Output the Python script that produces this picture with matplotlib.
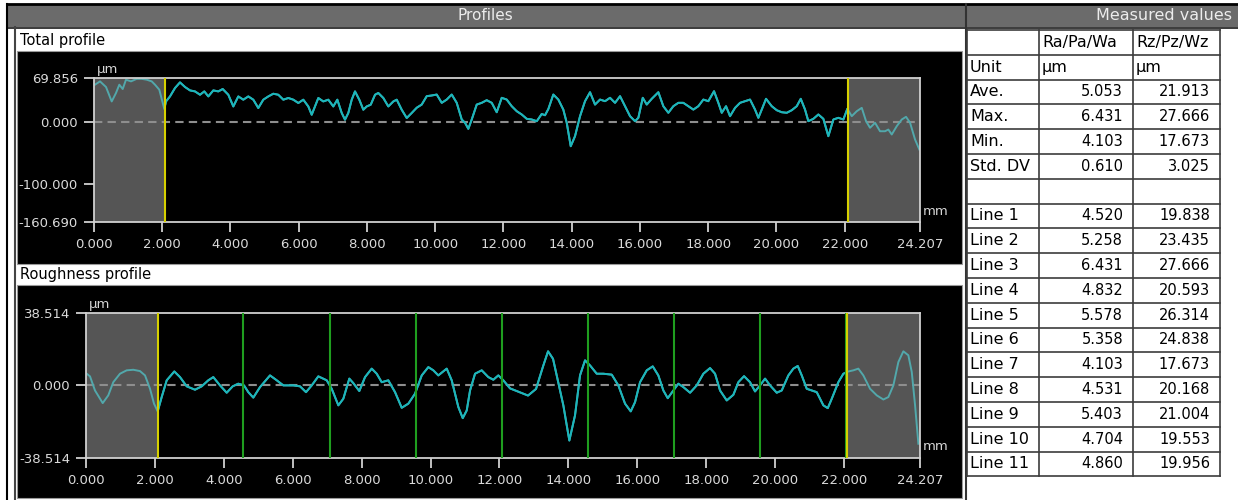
import matplotlib.pyplot as plt
from matplotlib.patches import Rectangle

# Total profile (P), position in mm and height in µm
total_x = [0.029, 0.176, 0.352, 0.519, 0.645, 0.742, 0.841, 0.938, 1.084, 1.251,
           1.398, 1.545, 1.691, 1.788, 1.914, 2.060, 2.110, 2.227, 2.374, 2.520,
           2.667, 2.814, 2.960, 3.107, 3.233, 3.350, 3.497, 3.643, 3.772, 3.936,
           4.083, 4.229, 4.376, 4.522, 4.669, 4.815, 4.962, 5.108, 5.255, 5.401,
           5.548, 5.695, 5.841, 5.988, 6.134, 6.281, 6.380, 6.477, 6.574, 6.720,
           6.867, 7.013, 7.131, 7.260, 7.356, 7.453, 7.553, 7.649, 7.775, 7.893,
           7.992, 8.110, 8.236, 8.332, 8.479, 8.625, 8.772, 8.872, 9.018, 9.165,
           9.311, 9.458, 9.604, 9.751, 9.897, 10.044, 10.191, 10.337, 10.484, 10.630,
           10.777, 10.873, 10.970, 11.070, 11.216, 11.363, 11.509, 11.656, 11.802, 11.949,
           12.095, 12.242, 12.389, 12.535, 12.682, 12.828, 12.975, 13.121, 13.218, 13.316,
           13.461, 13.608, 13.754, 13.854, 13.971, 14.097, 14.244, 14.390, 14.537, 14.683,
           14.830, 14.977, 15.123, 15.270, 15.416, 15.563, 15.709, 15.856, 15.953, 16.082,
           16.199, 16.345, 16.539, 16.685, 16.832, 16.978, 17.125, 17.271, 17.418, 17.565,
           17.711, 17.858, 18.004, 18.171, 18.297, 18.397, 18.523, 18.640, 18.787, 18.933,
           19.080, 19.226, 19.373, 19.470, 19.569, 19.695, 19.862, 20.009, 20.155, 20.302,
           20.448, 20.595, 20.712, 20.838, 20.935, 21.082, 21.228, 21.375, 21.521, 21.668,
           21.814, 21.961, 22.078, 22.207, 22.353, 22.500, 22.626, 22.743, 22.890, 23.036,
           23.183, 23.279, 23.379, 23.525, 23.672, 23.798, 23.916, 24.062, 24.189]
total_z = [58.7, 64.0, 55.0, 32.0, 45.5, 58.7, 51.8, 66.7, 64.0, 68.0,
           68.0, 66.7, 64.0, 58.7, 50.7, 20.0, 32.0, 40.0, 53.4, 62.4,
           55.0, 49.6, 48.0, 42.7, 48.0, 40.0, 49.6, 48.0, 51.8, 42.7,
           24.0, 40.0, 34.8, 40.0, 34.8, 21.5, 34.8, 40.0, 44.3, 42.7,
           34.8, 37.5, 34.8, 29.5, 34.8, 24.0, 10.8, 24.0, 37.5, 32.0,
           34.8, 24.0, 34.8, 13.6, 2.9, 13.6, 34.8, 48.0, 34.8, 18.8,
           24.0, 26.8, 42.7, 45.5, 37.5, 24.0, 32.0, 34.8, 18.8, 5.6,
           13.6, 22.0, 27.0, 40.4, 41.5, 43.0, 29.8, 35.0, 43.0, 29.8,
           3.2, -2.0, -11.7, 3.2, 27.0, 29.8, 34.0, 29.8, 14.8, 37.8,
           35.0, 24.4, 16.4, 11.2, 4.3, 3.2, 0.5, 12.0, 10.0, 20.0,
           43.0, 35.0, 19.0, -2.0, -39.4, -23.4, 8.5, 32.4, 46.7, 27.0,
           35.0, 32.4, 37.8, 29.8, 40.4, 24.4, 8.5, 0.5, 5.9, 37.8,
           27.0, 36.2, 46.7, 24.4, 13.9, 24.4, 29.8, 29.8, 24.4, 19.0,
           24.4, 35.0, 32.4, 48.3, 29.8, 13.9, 24.4, 8.5, 21.8, 29.8,
           32.4, 35.0, 19.0, 5.9, 19.0, 36.2, 24.4, 18.0, 14.8, 13.9,
           18.0, 24.4, 36.2, 19.0, 0.5, 4.3, 11.2, 4.3, -23.4, 3.2,
           5.9, 3.2, 20.3, 8.5, 16.4, 21.8, 0.5, -10.0, -2.0, -15.5,
           -15.5, -12.8, -20.7, -7.5, 3.2, 7.5, -2.0, -28.7, -44.7]

# Roughness profile (R)
rough_x = [0.000, 0.116, 0.261, 0.485, 0.647, 0.792, 0.987, 1.181, 1.373, 1.567,
           1.713, 1.858, 1.974, 2.081, 2.197, 2.343, 2.563, 2.729, 2.923, 3.164,
           3.358, 3.550, 3.695, 3.890, 4.084, 4.258, 4.421, 4.586, 4.711, 4.856,
           5.051, 5.341, 5.536, 5.727, 6.017, 6.212, 6.386, 6.552, 6.743, 6.987,
           7.132, 7.324, 7.469, 7.643, 7.759, 7.933, 8.099, 8.293, 8.438, 8.583,
           8.775, 8.970, 9.164, 9.356, 9.550, 9.745, 9.936, 10.081, 10.226, 10.470,
           10.615, 10.807, 10.935, 11.051, 11.147, 11.292, 11.486, 11.678, 11.823, 11.968,
           12.113, 12.308, 12.502, 12.830, 13.062, 13.266, 13.411, 13.556, 13.701, 13.855,
           14.029, 14.194, 14.339, 14.484, 14.630, 14.824, 15.016, 15.260, 15.451, 15.646,
           15.811, 15.936, 16.081, 16.276, 16.450, 16.612, 16.758, 16.885, 17.048, 17.193,
           17.338, 17.533, 17.727, 17.919, 18.113, 18.258, 18.403, 18.598, 18.790, 18.935,
           19.100, 19.274, 19.419, 19.564, 19.710, 19.855, 20.049, 20.194, 20.386, 20.531,
           20.659, 20.775, 20.920, 21.065, 21.210, 21.402, 21.530, 21.646, 21.837, 21.983,
           22.128, 22.273, 22.418, 22.563, 22.758, 22.952, 23.144, 23.289, 23.434, 23.579,
           23.724, 23.869, 23.968, 24.064, 24.160]
rough_z = [6.4, 4.7, -2.8, -9.5, -5.4, 1.6, 6.1, 7.9, 8.2, 7.5,
           5.2, -1.9, -9.8, -13.9, -6.3, 2.6, 7.3, 4.3, -0.6, -2.4,
           -0.6, 2.6, 4.3, -0.1, -4.0, -0.6, 0.8, -0.1, -3.7, -6.6,
           -1.0, 5.2, 2.6, -0.1, -0.1, -0.6, -3.7, -0.1, 4.7, 2.6,
           -1.9, -10.7, -7.2, 3.5, 1.1, -3.1, 4.3, 8.8, 6.1, 1.6,
           2.6, -3.7, -12.0, -9.8, -4.5, 5.2, 9.6, 7.9, 5.2, 8.8,
           2.6, -11.6, -17.5, -13.4, -2.8, 6.1, 7.9, 4.3, 2.9, 5.2,
           2.6, -1.7, -3.1, -5.5, -2.0, 10.0, 18.0, 14.0, 2.0, -10.7,
           -29.4, -16.0, 5.2, 13.2, 10.5, 6.1, 6.1, 5.6, -0.1, -9.8,
           -13.9, -9.0, 1.6, 7.9, 10.0, 5.2, -2.8, -6.9, -2.8, 0.8,
           -1.0, -4.0, -0.1, 6.1, 9.1, 6.1, -2.8, -8.1, -5.1, 1.6,
           4.8, 1.6, -3.3, -0.1, 3.5, -0.1, -4.0, -2.8, 5.2, 8.8,
           10.2, 5.2, -1.9, -2.8, -3.7, -10.7, -12.2, -7.2, 1.6, 6.1,
           7.3, 7.9, 8.8, 5.2, -1.9, -5.4, -7.6, -6.3, -0.1, 12.3,
           18.0, 15.9, 7.0, -10.7, -31.1]

x_len = 24.207
cut_start = 2.09
cut_end = 22.10
sample_len = 2.5
n_samples = 8

total_yticks = [69.856, 0.0, -100.0, -160.690]
rough_yticks = [38.514, 0.0, -38.514]
x_ticks = [0, 2, 4, 6, 8, 10, 12, 14, 16, 18, 20, 22, x_len]

# Measured values table
col_heads = ["", "Ra/Pa/Wa", "Rz/Pz/Wz"]
unit_row = ["Unit", "µm", "µm"]
stat_names = ["Ave.", "Max.", "Min.", "Std. DV"]
stat_ra = [5.053, 6.431, 4.103, 0.610]
stat_rz = [21.913, 27.666, 17.673, 3.025]
line_names = ["Line %d" % i for i in range(1, 12)]
line_ra = [4.520, 5.258, 6.431, 4.832, 5.578, 5.358, 4.103, 4.531, 5.403, 4.704, 4.860]
line_rz = [19.838, 23.435, 27.666, 20.593, 26.314, 24.838, 17.673, 20.168, 21.004, 19.553, 19.956]

W, H = 1238, 500
fig = plt.figure(figsize=(W / 100, H / 100), dpi=100)
fig.patch.set_facecolor("white")

# background layer in pixel units
bg = fig.add_axes([0, 0, 1, 1])
bg.set_xlim(0, W)
bg.set_ylim(H, 0)
bg.axis("off")

header_gray = "#6b6b6b"
bg.add_patch(Rectangle((7, 4), 958, 23, color=header_gray, lw=0))
bg.add_patch(Rectangle((967, 4), W - 967, 23, color=header_gray, lw=0))
bg.plot([7, W], [4, 4], color="black", lw=2)
bg.plot([7, W], [27.5, 27.5], color="#2a2a2a", lw=1.3)
bg.plot([7, 7], [4, H], color="black", lw=1.5)
bg.plot([15, 15], [27, H], color="#444444", lw=1.5)
bg.plot([966, 966], [4, H], color="#333333", lw=1.5)
bg.text(485, 16, "Profiles", ha="center", va="center", color="#ececec", fontsize=11)
bg.text(1232, 16, "Measured values", ha="right", va="center", color="#ececec", fontsize=11.5)

# black panels behind the two plots
bg.add_patch(Rectangle((17, 50.5), 945, 213, facecolor="black", edgecolor="#9a9a9a", lw=0.8))
bg.add_patch(Rectangle((17, 285), 945, 213, facecolor="black", edgecolor="#9a9a9a", lw=0.8))
bg.text(20, 40, "Total profile", ha="left", va="center", color="black", fontsize=10.5)
bg.text(20, 274, "Roughness profile", ha="left", va="center", color="black", fontsize=10.5)


def px_rect(x0, y0, x1, y1):
    return [x0 / W, 1 - y1 / H, (x1 - x0) / W, (y1 - y0) / H]


def draw_profile(rect, xs, zs, yticks, limits, with_samples):
    ax = fig.add_axes(rect)
    ax.set_facecolor("black")
    ax.set_xlim(0, x_len)
    ax.set_ylim(*limits)
    ax.axvspan(0, cut_start, color="#555555", lw=0, zorder=0)
    ax.axvspan(cut_end, x_len, color="#555555", lw=0, zorder=0)
    ax.axhline(0, color="#8e8e8e", lw=1.5, dashes=(4, 2.5), zorder=1)

    # muted curve inside the cut-off zones, bright inside the evaluation length
    ax.plot(xs, zs, color="#52a8ab", lw=1.4, zorder=2)
    main, = ax.plot(xs, zs, color="#1ab6bb", lw=1.4, zorder=2.1)
    clip = Rectangle((cut_start, limits[0]), cut_end - cut_start, limits[1] - limits[0],
                     transform=ax.transData)
    main.set_clip_path(clip)

    if with_samples:
        for k in range(1, n_samples + 1):
            ax.axvline(cut_start + k * sample_len - 0.02, color="#1f9e1f", lw=1.5, zorder=3)
    for xc in (cut_start, cut_end):
        ax.axvline(xc, color="#d6d000", lw=1.5, zorder=3.1)

    for s in ax.spines.values():
        s.set_color("#d0d0d0")
        s.set_linewidth(1.3)
    ax.set_xticks(x_ticks)
    ax.set_xticklabels(["%.3f" % v for v in x_ticks])
    ax.set_yticks(yticks)
    ax.set_yticklabels(["%.3f" % v for v in yticks])
    ax.tick_params(colors="#d0d0d0", labelcolor="#dadada", labelsize=9.5,
                   length=7.5, width=1.3, pad=4)
    ax.text(0.003, 1.015, "µm", transform=ax.transAxes, ha="left", va="bottom",
            color="#d6d6d6", fontsize=9.5)
    ax.text(1.003, 0.03, "mm", transform=ax.transAxes, ha="left", va="bottom",
            color="#d6d6d6", fontsize=9.5)
    return ax


draw_profile(px_rect(94, 77.7, 920, 222.3), total_x, total_z, total_yticks,
             (-160.690, 69.856), False)
draw_profile(px_rect(86, 312.7, 920, 457.7), rough_x, rough_z, rough_yticks,
             (-38.514, 38.514), True)

# table grid and cells
rows = [col_heads, unit_row]
rows += [[n, "%.3f" % a, "%.3f" % b] for n, a, b in zip(stat_names, stat_ra, stat_rz)]
rows += [["", "", ""]]
rows += [[n, "%.3f" % a, "%.3f" % b] for n, a, b in zip(line_names, line_ra, line_rz)]

col_x = [967, 1039, 1133, 1220]
row_top = 30
row_h = 24.8
n_rows = len(rows)
grid = "#3c3c3c"
for i in range(n_rows + 1):
    y = row_top + i * row_h
    bg.plot([col_x[0], col_x[-1]], [y, y], color=grid, lw=1.2)
for xc in col_x:
    bg.plot([xc, xc], [row_top, row_top + n_rows * row_h], color=grid, lw=1.2)

for i, row in enumerate(rows):
    yc = row_top + (i + 0.5) * row_h
    bg.text(col_x[0] + 3, yc, row[0], ha="left", va="center", fontsize=11.5, color="black")
    for j in (1, 2):
        txt = row[j]
        if txt and txt[0].isdigit():
            bg.text(col_x[j + 1] - 10, yc, txt, ha="right", va="center",
                    fontsize=10.5, color="black")
        else:
            bg.text(col_x[j] + 3, yc, txt, ha="left", va="center",
                    fontsize=11.5, color="black")

fig.savefig("out.png", dpi=100, facecolor=fig.get_facecolor())
